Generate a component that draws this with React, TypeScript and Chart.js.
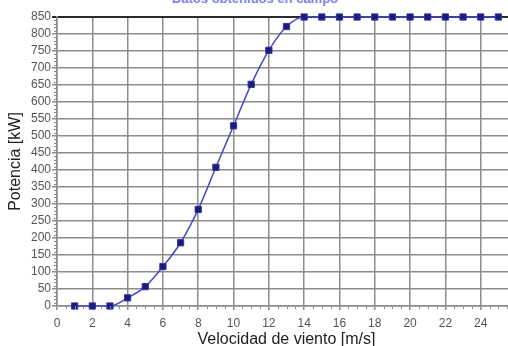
import React, { useEffect, useRef } from "react";
import { Chart, registerables } from "chart.js";

Chart.register(...registerables);

const windSpeed = [1, 2, 3, 4, 5, 6, 7, 8, 9, 10, 11, 12, 13, 14, 15, 16, 17, 18, 19, 20, 21, 22, 23, 24, 25];
const power = [0, 0, 0, 24, 57, 116, 186, 284, 408, 530, 652, 752, 822, 850, 850, 850, 850, 850, 850, 850, 850, 850, 850, 850, 850];
const chartTitle = "Datos obtenidos en campo";
const xTitle = "Velocidad de viento [m/s]";
const yTitle = "Potencia [kW]";

const CANVAS_W = 522;
const CANVAS_H = 352;
const PLOT_LEFT = 57;
const PLOT_TOP = 17;
const PLOT_BOTTOM = 306;

const minorTicks = {
  id: "minorTicks",
  afterDraw(chart: any) {
    const ctx = chart.ctx;
    const xs = chart.scales.x;
    const ys = chart.scales.y;
    ctx.save();
    ctx.strokeStyle = "#8a8a8a";
    ctx.lineWidth = 1;
    ctx.beginPath();
    for (let v = 0; v <= 850; v += 10) {
      if (v % 50 === 0) continue;
      const py = Math.round(ys.getPixelForValue(v)) + 0.5;
      ctx.moveTo(xs.left - 3, py);
      ctx.lineTo(xs.left, py);
    }
    for (let v = 0; v <= 26; v += 0.5) {
      if (v % 2 === 0) continue;
      const px = Math.round(xs.getPixelForValue(v)) + 0.5;
      ctx.moveTo(px, ys.bottom);
      ctx.lineTo(px, ys.bottom + 3);
    }
    ctx.stroke();
    ctx.restore();
  },
};

export default function App() {
  const ref = useRef<HTMLCanvasElement | null>(null);
  useEffect(() => {
    document.body.style.margin = "0";
    const canvas = ref.current!;
    const chart = new Chart(canvas, {
      type: "line",
      data: {
        datasets: [
          {
            data: windSpeed.map((x, i) => ({ x, y: power[i] })),
            borderColor: "#4848c8",
            borderWidth: 1.5,
            backgroundColor: "#1b1b78",
            pointStyle: "rect",
            pointRadius: 4.4,
            pointBorderColor: "#3434a8",
            pointBorderWidth: 1,
            pointBackgroundColor: "#1b1b78",
            cubicInterpolationMode: "monotone",
            clip: false as any,
          },
        ],
      },
      plugins: [minorTicks],
      options: {
        animation: false,
        responsive: false,
        maintainAspectRatio: false,
        layout: { padding: { top: PLOT_TOP, right: 1, left: 0, bottom: 0 } },
        plugins: {
          legend: { display: false },
          tooltip: { enabled: false },
          title: { display: false },
        },
        scales: {
          x: {
            type: "linear",
            min: 0,
            max: 26,
            afterFit(scale: any) {
              scale.height = CANVAS_H - PLOT_BOTTOM;
            },
            border: { display: true, color: "#8a8a8a", width: 1.5 },
            grid: {
              color: "#8c8c8c",
              lineWidth: 1.5,
              drawTicks: true,
              tickLength: 4,
            },
            ticks: {
              stepSize: 2,
              autoSkip: false,
              maxRotation: 0,
              padding: 6,
              color: "#555",
              font: { family: "Liberation Sans, Arial", size: 12 },
              callback: (v: any) => (Number(v) > 24 ? "" : String(v)),
            },
            title: {
              display: true,
              text: xTitle,
              color: "#222",
              font: { family: "Liberation Sans, Arial", size: 16 },
              padding: { top: 0, bottom: 3 },
            },
          },
          y: {
            type: "linear",
            min: 0,
            max: 850,
            afterFit(scale: any) {
              scale.width = PLOT_LEFT;
            },
            border: { display: true, color: "#8a8a8a", width: 1.5 },
            grid: {
              color: (c: any) => (c.tick && c.tick.value === 850 ? "#2a2a2a" : "#8c8c8c"),
              lineWidth: (c: any) => (c.tick && c.tick.value === 850 ? 2 : 1.5),
              drawTicks: true,
              tickLength: 5,
            },
            ticks: {
              stepSize: 50,
              autoSkip: false,
              padding: 1,
              color: "#555",
              font: { family: "Liberation Sans, Arial", size: 12 },
            },
            title: {
              display: true,
              text: yTitle,
              color: "#222",
              font: { family: "Liberation Sans, Arial", size: 16 },
              padding: { top: 6, bottom: 0 },
            },
          },
        },
      },
    });
    return () => chart.destroy();
  }, []);

  return (
    <div style={{ position: "fixed", left: 0, top: 0, width: 508, height: 346, overflow: "hidden", background: "#fff" }}>
      <div
        style={{
          position: "absolute",
          top: -8,
          left: 0,
          width: 510,
          textAlign: "center",
          color: "#8080ee",
          fontFamily: "Liberation Sans, Arial",
          fontWeight: "bold",
          fontSize: 13,
          lineHeight: "14px",
        }}
      >
        {chartTitle}
      </div>
      <canvas ref={ref} width={CANVAS_W} height={CANVAS_H} style={{ position: "absolute", left: 0, top: 0, width: CANVAS_W, height: CANVAS_H }} />
    </div>
  );
}
